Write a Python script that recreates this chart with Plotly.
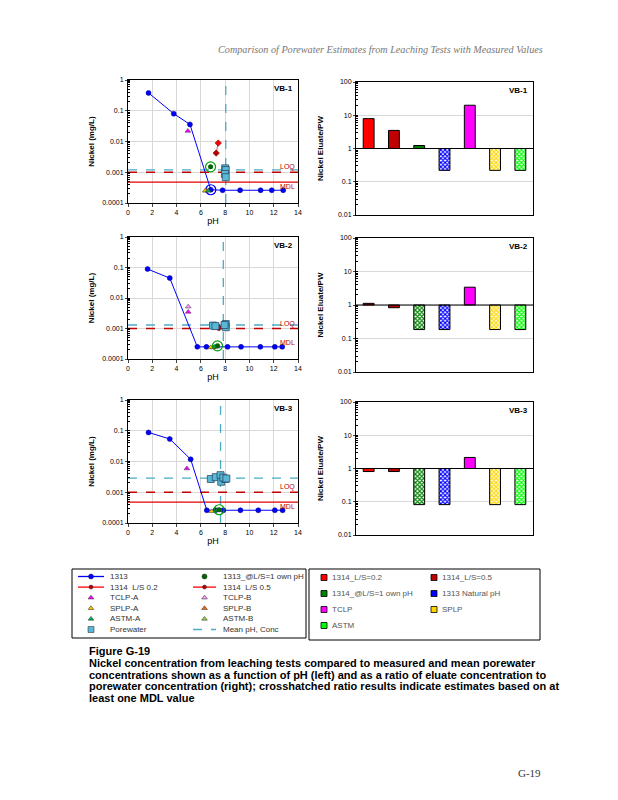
import math
import plotly.graph_objects as go

W, H = 618, 800
OFF = 8  # page body margin offset
def px(x): return (x - OFF) / W
def py(y): return 1 - (y - OFF) / H

# ---------------- data ----------------
panel_names = ["VB-1", "VB-2", "VB-3"]

ph_1313 = [[1.69, 3.77, 5.10, 6.82, 7.79, 9.23, 10.92, 11.84, 12.78],
           [1.61, 3.44, 5.71, 6.46, 8.20, 9.31, 10.90, 12.09, 12.70],
           [1.69, 3.44, 5.16, 6.49, 7.20, 7.85, 9.26, 10.73, 12.09, 12.73]]
ni_1313 = [[0.38, 0.08, 0.036, 0.00027, 0.00026, 0.00026, 0.00026, 0.00026, 0.00026],
           [0.089, 0.045, 0.00025, 0.00025, 0.00025, 0.00025, 0.00025, 0.00025, 0.00025],
           [0.088, 0.054, 0.0118, 0.00026, 0.00026, 0.00026, 0.00026, 0.00026, 0.00026, 0.00026]]

ph_natural = [6.82, None, None]
ni_natural = [0.00027, None, None]

ph_own = [6.80, 7.37, 7.50]
ni_own = [0.0015, 0.00027, 0.00027]

ph_1314_02 = [7.43, 7.40, None]
ni_1314_02 = [0.0089, 0.0011, None]
ph_1314_05 = [7.26, 7.50, None]
ni_1314_05 = [0.0042, 0.00105, None]

ph_tclp_a = [4.93, 4.96, 4.85]
ni_tclp_a = [0.022, 0.0035, 0.0059]
ph_tclp_b = [None, 4.96, None]
ni_tclp_b = [None, 0.0052, None]
ph_splp_a = [6.35, 6.82, 6.88]
ni_splp_a = [0.00025, 0.00024, 0.00024]
ph_splp_b = [6.45, 7.00, None]
ni_splp_b = [0.00025, 0.00024, None]
ph_astm_a = [6.60, 7.15, 7.35]
ni_astm_a = [0.00025, 0.00025, 0.00026]
ph_astm_b = [None, 7.30, 7.55]
ni_astm_b = [None, 0.00025, 0.00026]

ph_pw = [[8.00, 8.05, 7.98, 8.05],
         [7.00, 7.20, 8.05, 8.05, 7.95],
         [6.82, 7.23, 7.62, 7.68, 8.00, 7.85, 8.10]]
ni_pw = [[0.00134, 0.00118, 0.00088, 0.00069],
         [0.00125, 0.00120, 0.00140, 0.00110, 0.00130],
         [0.0027, 0.0031, 0.0036, 0.0022, 0.0027, 0.0030, 0.0028]]

mean_ph = [8.05, 7.85, 7.62]
mean_ni = [0.0012, 0.0013, 0.0029]

loq = [0.001, 0.001, 0.001]
mdl = [0.00048, None, 0.00048]
mdl_label = [0.00048, 0.00048, 0.00048]

bar_categories = ["1314_L/S=0.2", "1314_L/S=0.5", "1313_@L/S=1 own pH",
                  "1313 Natural pH", "TCLP", "SPLP", "ASTM"]
bar_colors = ["#FF0000", "#C00000", "#008000", "#0000FF", "#FF00FF", "#FFD700", "#00FF00"]
ratio_vb1 = [7.9, 3.5, 1.23, 0.22, 20.0, 0.22, 0.22]
ratio_vb2 = [1.12, 0.83, 0.185, 0.185, 3.4, 0.185, 0.185]
ratio_vb3 = [0.81, 0.81, 0.082, 0.082, 2.15, 0.082, 0.082]
hatched_vb1 = [False, False, False, True, False, True, True]
hatched_vb2 = [False, False, True, True, False, True, True]
hatched_vb3 = [False, False, True, True, False, True, True]
ratios = [ratio_vb1, ratio_vb2, ratio_vb3]
hatched = [hatched_vb1, hatched_vb2, hatched_vb3]

left_legend_col1 = ["1313", "1314  L/S 0.2", "TCLP-A", "SPLP-A", "ASTM-A", "Porewater"]
left_legend_col2 = ["1313_@L/S=1 own pH", "1314  L/S 0.5", "TCLP-B", "SPLP-B", "ASTM-B", "Mean pH, Conc"]
right_legend_col1 = ["1314_L/S=0.2", "1314_@L/S=1 own pH", "TCLP", "ASTM"]
right_legend_col2 = ["1314_L/S=0.5", "1313 Natural pH", "SPLP"]

caption_title = "Figure G-19"
caption_lines = [
    "Nickel concentration from leaching tests compared to measured and mean porewater",
    "concentrations shown as a function of pH (left) and as a ratio of eluate concentration to",
    "porewater concentration (right); crosshatched ratio results indicate estimates based on at",
    "least one MDL value",
]
header_text = "Comparison of Porewater Estimates from Leaching Tests with Measured Values"
page_number = "G-19"

# ---------------- styles ----------------
FONT = "Liberation Sans"
C_1313 = "#0000FF"
C_OWN = "#006400"
C_1314A = "#FF0000"
C_1314B = "#C00000"
C_TCLPA = "#FF00FF"
C_TCLPB = "#FF99FF"
C_SPLPA = "#FFC000"
C_SPLPB = "#FF6600"
C_ASTMA = "#00B050"
C_ASTMB = "#92D050"
C_MEAN = "#4BACC6"

left_x_dom = [px(128), px(298)]
right_x_dom = [px(356), px(533)]
left_y_doms = [[py(203), py(80)], [py(359), py(237)], [py(523), py(400)]]
right_y_doms = [[py(215), py(82)], [py(372), py(238)], [py(535), py(402)]]

fig = go.Figure()
layout = dict(
    width=W, height=H, margin=dict(l=0, r=0, t=0, b=0, autoexpand=False),
    paper_bgcolor="white", plot_bgcolor="rgba(0,0,0,0)", showlegend=False,
    font=dict(family=FONT, size=7, color="black"), barmode="overlay",
)
annotations = []
shapes = []

def add_pts(xs, ys, xa, ya, **kw):
    fig.add_trace(go.Scatter(x=xs, y=ys, xaxis=xa, yaxis=ya, **kw))

for i in range(3):
    lx, ly = (f"x{i+1}", f"y{i+1}") if i else ("x", "y")
    rx, ry = f"x{i+4}", f"y{i+4}"
    lxk = "xaxis" + (str(i + 1) if i else "")
    lyk = "yaxis" + (str(i + 1) if i else "")
    layout[lxk] = dict(domain=left_x_dom, anchor=ly, range=[0, 14], dtick=2,
                       showgrid=True, gridcolor="#D9D9D9", gridwidth=1,
                       showline=True, linecolor="black", linewidth=1, mirror=True,
                       ticks="outside", ticklen=3, tickfont=dict(size=7),
                       title=dict(text="pH", font=dict(size=9), standoff=2), zeroline=False)
    layout[lyk] = dict(domain=left_y_doms[i], anchor=lx, type="log", range=[-4, 0],
                       dtick=1, exponentformat="none",
                       showgrid=True, gridcolor="#D9D9D9",
                       showline=True, linecolor="black", linewidth=1, mirror=True,
                       ticks="outside", ticklen=2, tickfont=dict(size=7),
                       minor=dict(ticks="inside", ticklen=2, showgrid=False, tickcolor="black"),
                       title=dict(text="<b>Nickel (mg/L)</b>", font=dict(size=8), standoff=6))
    layout[f"xaxis{i+4}"] = dict(domain=right_x_dom, anchor=ry, type="category",
                                 range=[-0.5, 6.5], showticklabels=False, ticks="",
                                 showgrid=False, showline=True, linecolor="black",
                                 linewidth=1, mirror=True)
    layout[f"yaxis{i+4}"] = dict(domain=right_y_doms[i], anchor=rx, type="log", range=[-2, 2],
                                 dtick=1, exponentformat="none",
                                 showgrid=True, gridcolor="#D9D9D9",
                                 showline=True, linecolor="black", linewidth=1, mirror=True,
                                 ticks="outside", ticklen=2, tickfont=dict(size=7),
                                 minor=dict(ticks="inside", ticklen=2, showgrid=False, tickcolor="black"),
                                 title=dict(text="<b>Nickel Eluate/PW</b>", font=dict(size=8), standoff=13))

    # mean lines
    add_pts([mean_ph[i], mean_ph[i]], [1e-4, 1], lx, ly, mode="lines",
            line=dict(color=C_MEAN, width=1.3, dash="dash"))
    add_pts([0, 14], [mean_ni[i], mean_ni[i]], lx, ly, mode="lines",
            line=dict(color=C_MEAN, width=1.3, dash="dash"))
    # LOQ / MDL
    add_pts([0, 14], [loq[i], loq[i]], lx, ly, mode="lines",
            line=dict(color="#C00000", width=1.3, dash="dash"))
    if mdl[i] is not None:
        add_pts([0, 14], [mdl[i], mdl[i]], lx, ly, mode="lines",
                line=dict(color="#E00000", width=1.2))
    annotations.append(dict(x=0.995, xref=f"{lx} domain", y=math.log10(loq[i]), yref=ly,
                            text="LOQ", showarrow=False, xanchor="right", yanchor="bottom",
                            font=dict(size=7, color="#C00000"), yshift=-1))
    annotations.append(dict(x=0.995, xref=f"{lx} domain", y=math.log10(mdl_label[i]), yref=ly,
                            text="MDL", showarrow=False, xanchor="right", yanchor="top",
                            font=dict(size=7, color="#C00000"), yshift=1))
    # 1313 line
    add_pts(ph_1313[i], ni_1313[i], lx, ly, mode="lines+markers",
            line=dict(color=C_1313, width=1),
            marker=dict(color=C_1313, size=5, symbol="circle", line=dict(color="#000080", width=0.5)))
    if ph_natural[i] is not None:
        add_pts([ph_natural[i]], [ni_natural[i]], lx, ly, mode="markers",
                marker=dict(size=10, symbol="circle-open", color=C_1313,
                            line=dict(color=C_1313, width=1.2)))
    # 1314
    if ph_1314_02[i] is not None:
        add_pts([ph_1314_05[i], ph_1314_02[i]], [ni_1314_05[i], ni_1314_02[i]], lx, ly,
                mode="lines+markers", line=dict(color="#E06060", width=1),
                marker=dict(color=[C_1314B, C_1314A], size=5, symbol="diamond",
                            line=dict(color="#600000", width=0.5)))
    # single-point series
    for xs, ys, col in [(ph_tclp_b, ni_tclp_b, C_TCLPB), (ph_tclp_a, ni_tclp_a, C_TCLPA),
                        (ph_splp_b, ni_splp_b, C_SPLPB), (ph_splp_a, ni_splp_a, C_SPLPA),
                        (ph_astm_b, ni_astm_b, C_ASTMB), (ph_astm_a, ni_astm_a, C_ASTMA)]:
        if xs[i] is not None:
            add_pts([xs[i]], [ys[i]], lx, ly, mode="markers",
                    marker=dict(color=col, size=5, symbol="triangle-up",
                                line=dict(color="#333333", width=0.5)))
    # porewater
    add_pts(ph_pw[i], ni_pw[i], lx, ly, mode="markers",
            marker=dict(color="#5BB8D4", size=7, symbol="square",
                        line=dict(color="#1F3F5F", width=0.7)))
    # own pH
    add_pts([ph_own[i]], [ni_own[i]], lx, ly, mode="markers",
            marker=dict(size=10, symbol="circle-open", color="#00A000",
                        line=dict(color="#00A000", width=1.2)))
    add_pts([ph_own[i]], [ni_own[i]], lx, ly, mode="markers",
            marker=dict(color=C_OWN, size=5, symbol="circle"))

    annotations.append(dict(x=0.985, xref=f"{lx} domain", y=0.985, yref=f"{ly} domain",
                            text=f"<b>{panel_names[i]}</b>", showarrow=False,
                            xanchor="right", yanchor="top", font=dict(size=8)))

    # bars: one trace per category so hatch settings stay scalar
    vals = ratios[i]
    hat = hatched[i]
    for cat, v, c, h in zip(bar_categories, vals, bar_colors, hat):
        if h:
            mk = dict(color="white", line=dict(color="black", width=1),
                      pattern=dict(shape="x", fgcolor=c, bgcolor="white",
                                   size=3, solidity=0.6, fillmode="replace"))
        else:
            mk = dict(color=c, line=dict(color="black", width=1))
        fig.add_trace(go.Bar(x=[cat], y=[v - 1], base=[1], xaxis=rx, yaxis=ry,
                             width=0.43, marker=mk))
    shapes.append(dict(type="line", xref=f"{rx} domain", yref=ry, x0=0, x1=1, y0=1, y1=1,
                       line=dict(color="black", width=1)))
    annotations.append(dict(x=0.985, xref=f"{rx} domain", y=0.985, yref=f"{ry} domain",
                            text=f"<b>{panel_names[i]}</b>", showarrow=False,
                            xanchor="right", yanchor="top", font=dict(size=8)))

# ---------------- manual legends (aux axis in page pixels) ----------------
layout["xaxis7"] = dict(domain=[0, 1], range=[OFF, W + OFF], visible=False, anchor="y7", fixedrange=True)
layout["yaxis7"] = dict(domain=[0, 1], range=[H + OFF, OFF], visible=False, anchor="x7", fixedrange=True)

leg_left_styles1 = [
    dict(line=C_1313, dash="solid", marker=dict(color=C_1313, symbol="circle", size=5)),
    dict(line=C_1314A, dash="solid", marker=dict(color=C_1314B, symbol="circle", size=4)),
    dict(line=None, marker=dict(color=C_TCLPA, symbol="triangle-up", size=5)),
    dict(line=None, marker=dict(color=C_SPLPA, symbol="triangle-up", size=5)),
    dict(line=None, marker=dict(color=C_ASTMA, symbol="triangle-up", size=5)),
    dict(line=None, marker=dict(color="#5BB8D4", symbol="square", size=6)),
]
leg_left_styles2 = [
    dict(line=None, marker=dict(color=C_OWN, symbol="circle", size=5)),
    dict(line=C_1314A, dash="solid", marker=dict(color=C_1314B, symbol="circle", size=4)),
    dict(line=None, marker=dict(color=C_TCLPB, symbol="triangle-up", size=5)),
    dict(line=None, marker=dict(color=C_SPLPB, symbol="triangle-up", size=5)),
    dict(line=None, marker=dict(color=C_ASTMB, symbol="triangle-up", size=5)),
    dict(line=C_MEAN, dash="dash", marker=None),
]
row0, drow = 576.5, 10.6
for labels, styles, x0, x1, xt in [(left_legend_col1, leg_left_styles1, 78, 104, 108),
                                    (left_legend_col2, leg_left_styles2, 193, 216, 221)]:
    for r, (lab, st) in enumerate(zip(labels, styles)):
        yy = row0 + r * drow
        xm = (x0 + x1) / 2
        if st.get("line"):
            fig.add_trace(go.Scatter(x=[x0, x1], y=[yy, yy], xaxis="x7", yaxis="y7", mode="lines",
                                     line=dict(color=st["line"], width=1.3, dash=st["dash"])))
        if st.get("marker"):
            m = dict(st["marker"])
            m["line"] = dict(color="#222222", width=0.5)
            fig.add_trace(go.Scatter(x=[xm], y=[yy], xaxis="x7", yaxis="y7", mode="markers", marker=m))
        annotations.append(dict(x=px(xt), y=py(yy), xref="paper", yref="paper", text=lab,
                                showarrow=False, xanchor="left", yanchor="middle",
                                font=dict(size=8, color="#333333")))

right_cols = [(right_legend_col1, [bar_colors[0], bar_colors[2], bar_colors[4], bar_colors[6]], 324, 330),
              (right_legend_col2, [bar_colors[1], bar_colors[3], bar_colors[5]], 434, 440)]
rrow0, rdrow = 577.5, 16.0
for labels, cols, xm, xt in right_cols:
    for r, (lab, c) in enumerate(zip(labels, cols)):
        yy = rrow0 + r * rdrow
        fig.add_trace(go.Scatter(x=[xm], y=[yy], xaxis="x7", yaxis="y7", mode="markers",
                                 marker=dict(color=c, symbol="square", size=6,
                                             line=dict(color="black", width=0.8))))
        annotations.append(dict(x=px(xt), y=py(yy), xref="paper", yref="paper", text=lab,
                                showarrow=False, xanchor="left", yanchor="middle",
                                font=dict(size=8, color="#555555")))

shapes.append(dict(type="rect", xref="paper", yref="paper", x0=px(72), x1=px(306),
                   y0=py(638), y1=py(569), line=dict(color="black", width=1)))
shapes.append(dict(type="rect", xref="paper", yref="paper", x0=px(309), x1=px(540),
                   y0=py(640), y1=py(569), line=dict(color="black", width=1)))

# ---------------- page text ----------------
annotations.append(dict(x=px(545), y=py(50), xref="paper", yref="paper",
                        text=f"<i>{header_text}</i>", showarrow=False, xanchor="right",
                        yanchor="middle", font=dict(family="Liberation Serif", size=10.2, color="#777777")))
annotations.append(dict(x=px(87), y=py(651), xref="paper", yref="paper",
                        text=f"<b>{caption_title}</b>", showarrow=False, xanchor="left",
                        yanchor="middle", font=dict(size=11, color="black")))
for k, line in enumerate(caption_lines):
    annotations.append(dict(x=px(87), y=py(663 + k * 11.7), xref="paper", yref="paper",
                            text=f"<b>{line}</b>", showarrow=False, xanchor="left",
                            yanchor="middle", font=dict(size=11, color="black")))
annotations.append(dict(x=px(543), y=py(773), xref="paper", yref="paper", text=page_number,
                        showarrow=False, xanchor="right", yanchor="middle",
                        font=dict(family="Liberation Serif", size=11, color="#333333")))

layout["annotations"] = annotations
layout["shapes"] = shapes
fig.update_layout(**layout)
fig.write_html("out.html")
